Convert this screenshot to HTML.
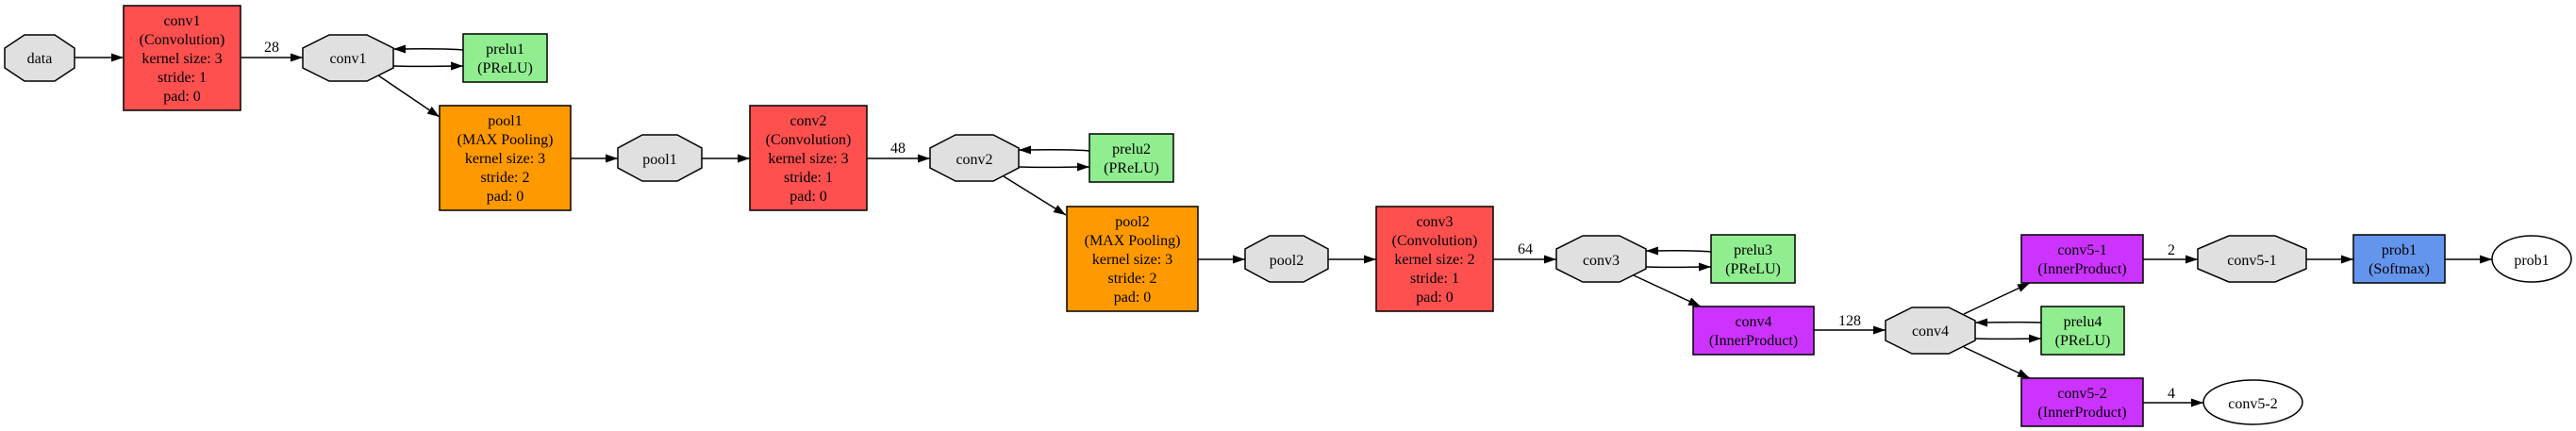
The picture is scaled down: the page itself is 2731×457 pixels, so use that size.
<!DOCTYPE html>
<html><head><meta charset="utf-8"><style>
html,body{margin:0;padding:0;background:#fff;width:2731px;height:457px;overflow:hidden}
svg{display:block}
text{font-family:"Liberation Serif",serif;font-size:16px;fill:#000}
</style></head><body>
<svg width="2731" height="457" viewBox="0 0 2731 457" xmlns="http://www.w3.org/2000/svg">
<defs>
<marker id="a" markerUnits="userSpaceOnUse" markerWidth="14" markerHeight="10" refX="13" refY="4.5" orient="auto">
<path d="M0,0 L13,4.5 L0,9 z" fill="#000"/>
</marker>
</defs>
<g stroke="#000" stroke-width="1.5" fill="none" marker-end="url(#a)">
<line x1="79" y1="61" x2="131" y2="61"/>
<line x1="255" y1="61" x2="321" y2="61"/>
<path d="M491,53 C465,51 440,52 417,52"/>
<path d="M417,70 C440,71 465,70 491,70"/>
<line x1="401" y1="80" x2="466" y2="124"/>
<line x1="605" y1="168" x2="655" y2="168"/>
<line x1="744" y1="168" x2="795" y2="168"/>
<line x1="919" y1="168" x2="986" y2="168"/>
<path d="M1155,160 C1130,158 1105,159 1080,159"/>
<path d="M1080,177 C1105,178 1130,177 1155,177"/>
<line x1="1064" y1="187" x2="1130" y2="228"/>
<line x1="1270" y1="275" x2="1320" y2="275"/>
<line x1="1408" y1="275" x2="1459" y2="275"/>
<line x1="1583" y1="275" x2="1650" y2="275"/>
<path d="M1814,267 C1790,265 1768,266 1745,266"/>
<path d="M1745,283 C1768,284 1790,283 1814,283"/>
<line x1="1732" y1="292" x2="1803" y2="325"/>
<line x1="1923" y1="350" x2="1999" y2="350"/>
<line x1="2082" y1="333" x2="2152" y2="300"/>
<path d="M2164,342 C2140,341 2117,342 2094,342"/>
<path d="M2094,359 C2117,360 2140,359 2164,359"/>
<line x1="2082" y1="368" x2="2152" y2="401"/>
<line x1="2272" y1="275" x2="2330" y2="275"/>
<line x1="2445" y1="275" x2="2495" y2="275"/>
<line x1="2592" y1="275" x2="2642" y2="275"/>
<line x1="2272" y1="427" x2="2336" y2="427"/>
</g>
<g stroke="#000" stroke-width="1.5">
<!-- octagons -->
<polygon fill="#e0e0e0" points="26,37 58,37 79,51 79,72 58,86 26,86 5,72 5,51"/>
<polygon fill="#e0e0e0" points="349,37 389,37 417,51 417,72 389,86 349,86 321,72 321,51"/>
<polygon fill="#e0e0e0" points="681,143 718,143 744,157 744,178 718,192 681,192 655,178 655,157"/>
<polygon fill="#e0e0e0" points="1013,143 1053,143 1080,157 1080,178 1053,192 1013,192 986,178 986,157"/>
<polygon fill="#e0e0e0" points="1346,250 1382,250 1408,264 1408,285 1382,299 1346,299 1320,285 1320,264"/>
<polygon fill="#e0e0e0" points="1678,250 1717,250 1745,264 1745,285 1717,299 1678,299 1650,285 1650,264"/>
<polygon fill="#e0e0e0" points="2027,326 2066,326 2094,340 2094,361 2066,375 2027,375 1999,361 1999,340"/>
<polygon fill="#e0e0e0" points="2363,250 2412,250 2445,264 2445,285 2412,299 2363,299 2330,285 2330,264"/>
<!-- boxes -->
<rect x="131" y="6" width="124" height="111" fill="#ff5050"/>
<rect x="491" y="36" width="89" height="51" fill="#90ee90"/>
<rect x="466" y="112" width="139" height="111" fill="#ff9900"/>
<rect x="795" y="112" width="124" height="111" fill="#ff5050"/>
<rect x="1155" y="142" width="89" height="51" fill="#90ee90"/>
<rect x="1131" y="219" width="139" height="111" fill="#ff9900"/>
<rect x="1459" y="219" width="124" height="111" fill="#ff5050"/>
<rect x="1814" y="249" width="89" height="51" fill="#90ee90"/>
<rect x="1795" y="325" width="128" height="51" fill="#cc33ff"/>
<rect x="2143" y="249" width="129" height="51" fill="#cc33ff"/>
<rect x="2164" y="325" width="88" height="51" fill="#90ee90"/>
<rect x="2143" y="401" width="129" height="51" fill="#cc33ff"/>
<rect x="2495" y="249" width="97" height="51" fill="#6495ed"/>
<ellipse cx="2684" cy="274.5" rx="42" ry="24.5" fill="#fff"/>
<ellipse cx="2388.5" cy="426.5" rx="52.5" ry="23.5" fill="#fff"/>
</g>
<g text-anchor="middle">
<text x="42" y="67">data</text>
<text x="193" y="27">conv1</text><text x="193" y="47">(Convolution)</text><text x="193" y="67">kernel size: 3</text><text x="193" y="87">stride: 1</text><text x="193" y="107">pad: 0</text>
<text x="288" y="55">28</text>
<text x="369" y="67">conv1</text>
<text x="535.5" y="57">prelu1</text><text x="535.5" y="77">(PReLU)</text>
<text x="535.5" y="133">pool1</text><text x="535.5" y="153">(MAX Pooling)</text><text x="535.5" y="173">kernel size: 3</text><text x="535.5" y="193">stride: 2</text><text x="535.5" y="213">pad: 0</text>
<text x="699.5" y="174">pool1</text>
<text x="857" y="133">conv2</text><text x="857" y="153">(Convolution)</text><text x="857" y="173">kernel size: 3</text><text x="857" y="193">stride: 1</text><text x="857" y="213">pad: 0</text>
<text x="952" y="162">48</text>
<text x="1033" y="174">conv2</text>
<text x="1199.5" y="163">prelu2</text><text x="1199.5" y="183">(PReLU)</text>
<text x="1200.5" y="240">pool2</text><text x="1200.5" y="260">(MAX Pooling)</text><text x="1200.5" y="280">kernel size: 3</text><text x="1200.5" y="300">stride: 2</text><text x="1200.5" y="320">pad: 0</text>
<text x="1364" y="281">pool2</text>
<text x="1521" y="240">conv3</text><text x="1521" y="260">(Convolution)</text><text x="1521" y="280">kernel size: 2</text><text x="1521" y="300">stride: 1</text><text x="1521" y="320">pad: 0</text>
<text x="1617" y="269">64</text>
<text x="1697.5" y="281">conv3</text>
<text x="1858.5" y="270">prelu3</text><text x="1858.5" y="290">(PReLU)</text>
<text x="1859" y="346">conv4</text><text x="1859" y="366">(InnerProduct)</text>
<text x="1961" y="345">128</text>
<text x="2046.5" y="356">conv4</text>
<text x="2207.5" y="270">conv5-1</text><text x="2207.5" y="290">(InnerProduct)</text>
<text x="2208" y="346">prelu4</text><text x="2208" y="366">(PReLU)</text>
<text x="2207.5" y="422">conv5-2</text><text x="2207.5" y="442">(InnerProduct)</text>
<text x="2302" y="270">2</text>
<text x="2302" y="422">4</text>
<text x="2387.5" y="281">conv5-1</text>
<text x="2543.5" y="270">prob1</text><text x="2543.5" y="290">(Softmax)</text>
<text x="2684" y="281">prob1</text>
<text x="2388.5" y="433">conv5-2</text>
</g>
</svg>
</body></html>
